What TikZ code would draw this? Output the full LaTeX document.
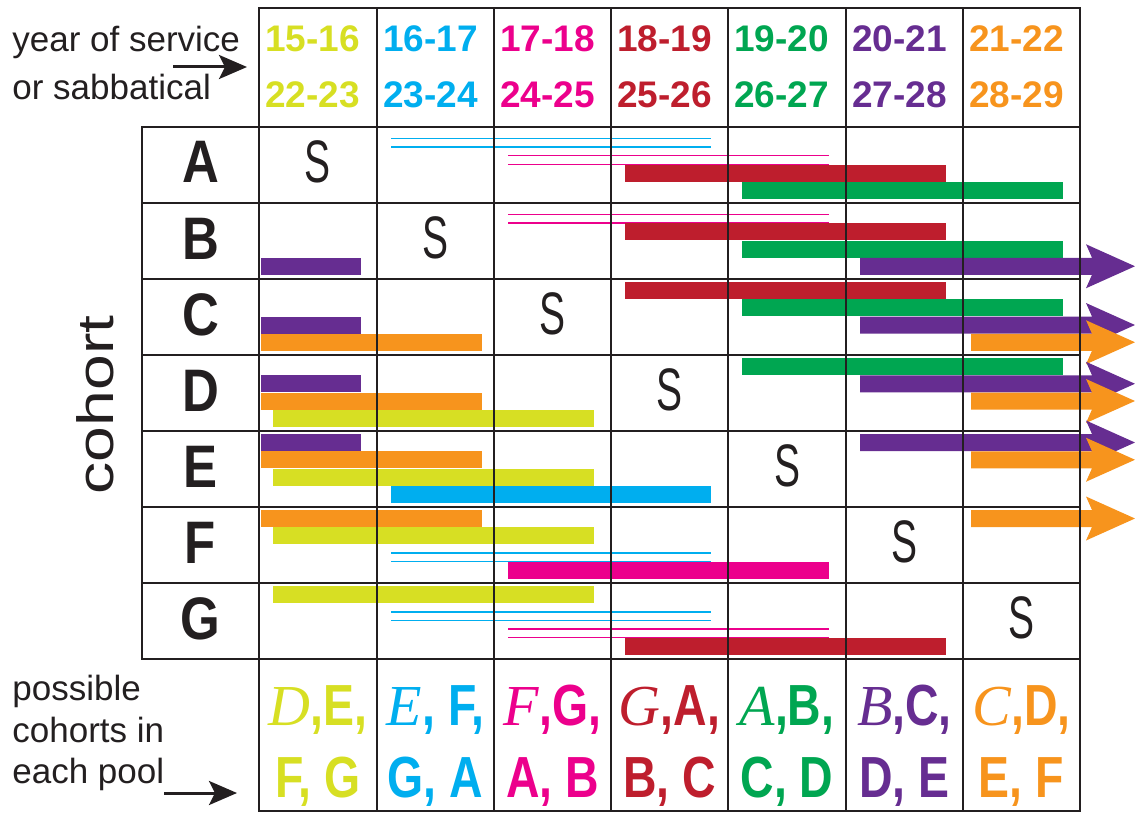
\documentclass[tikz,border=0pt]{standalone}
\usepackage{fontspec}
\setmainfont{Liberation Sans}
\newfontfamily\serifit{Liberation Serif}
\usepackage{graphicx}
\usepackage{tikz}
\usetikzlibrary{arrows.meta}
\definecolor{ylw}{HTML}{D7DF23}
\definecolor{cyn}{HTML}{00AEEF}
\definecolor{mag}{HTML}{EC008C}
\definecolor{crim}{HTML}{BE1E2D}
\definecolor{grn}{HTML}{00A651}
\definecolor{prp}{HTML}{662D91}
\definecolor{orng}{HTML}{F7941D}
\definecolor{ink}{HTML}{231F20}
% top edge of slot #2 in cohort row #1
\newcommand{\slottop}[2]{127+76*(#1-1)+3+17.25*(#2-1)}
\newcommand{\solidbar}[5]{\fill[#1] (#4,{\slottop{#2}{#3}}) rectangle (#5,{\slottop{#2}{#3}+17});}
\newcommand{\hollowbar}[5]{%
\draw[Hollow,#1] (#4,{\slottop{#2}{#3}+8.5}) -- (#5,{\slottop{#2}{#3}+8.5});
\draw[Hollow,#1] (#4,{\slottop{#2}{#3}+17}) -- (#5,{\slottop{#2}{#3}+17});}
\newcommand{\arrowbar}[4]{\fill[#1] (#4,{\slottop{#2}{#3}}) -- (1092,{\slottop{#2}{#3}})
 -- (1086,{\slottop{#2}{#3}-13.5}) -- (1135,{\slottop{#2}{#3}+8.5}) -- (1086,{\slottop{#2}{#3}+30.5})
 -- (1092,{\slottop{#2}{#3}+17}) -- (#4,{\slottop{#2}{#3}+17}) -- cycle;}
\newcommand{\squeeze}[1]{\scalebox{0.8}[1]{#1}}
\newcommand{\poolfirst}[2]{{\normalfont\serifit\itshape #1}\scalebox{0.8}[1]{#2}}

\begin{document}
\begin{tikzpicture}[
x=0.5pt, y=-0.5pt,
GridLines/.style={draw=ink, line width=1pt},
Hollow/.style={line width=0.75pt},
YearText/.style={font=\fontsize{18.5}{22}\selectfont\bfseries, anchor=base west, inner sep=0pt},
NoteText/.style={font=\fontsize{17.5}{21}\selectfont, anchor=base west, inner sep=0pt, text=ink},
CohortText/.style={font=\fontsize{30}{36}\selectfont\bfseries, anchor=base, inner sep=0pt, text=ink},
SabText/.style={font=\fontsize{30}{36}\selectfont, anchor=base, inner sep=0pt, text=ink},
PoolText/.style={font=\fontsize{29}{34}\selectfont\bfseries, anchor=base, inner sep=0pt},
Pointer/.style={-{Stealth[length=14pt, width=12pt, inset=3pt]}, line width=1.5pt, draw=ink}
]
\useasboundingbox (0,0) rectangle (1135,813);

% notes on the left
\node[NoteText] (note1) at (12,52) {year of service};
\node[NoteText] (note2) at (12,100) {or sabbatical};
\coordinate (yrtail) at (173,67);
\coordinate (yrhead) at (247,67);
\draw[Pointer] (yrtail) -- (yrhead);

\node[NoteText] (note3) at (12,700) {possible};
\node[NoteText] (note4) at (12,742) {cohorts in};
\node[NoteText] (note5) at (12,783) {each pool};
\coordinate (pooltail) at (164,793);
\coordinate (poolhead) at (237,793);
\draw[Pointer] (pooltail) -- (poolhead);

\node[rotate=90, anchor=base, inner sep=0pt, text=ink, font=\fontsize{25.5}{30}\selectfont] (cohort) at (113,405) {\scalebox{1.26}[1]{cohort}};

% bars, row by row
\hollowbar{cyn}{1}{1}{391}{711}
\hollowbar{mag}{1}{2}{508}{829}
\solidbar{crim}{1}{3}{625}{946}
\solidbar{grn}{1}{4}{742}{1063}

\hollowbar{mag}{2}{1}{508}{829}
\solidbar{crim}{2}{2}{625}{946}
\solidbar{grn}{2}{3}{742}{1063}
\solidbar{prp}{2}{4}{261}{361}
\arrowbar{prp}{2}{4}{860}

\solidbar{crim}{3}{1}{625}{946}
\solidbar{grn}{3}{2}{742}{1063}
\solidbar{prp}{3}{3}{261}{361}
\arrowbar{prp}{3}{3}{860}
\solidbar{orng}{3}{4}{261}{482}
\arrowbar{orng}{3}{4}{971}

\solidbar{grn}{4}{1}{742}{1063}
\solidbar{prp}{4}{2}{261}{361}
\arrowbar{prp}{4}{2}{860}
\solidbar{orng}{4}{3}{261}{482}
\arrowbar{orng}{4}{3}{971}
\solidbar{ylw}{4}{4}{273}{594}

\solidbar{prp}{5}{1}{261}{361}
\arrowbar{prp}{5}{1}{860}
\solidbar{orng}{5}{2}{261}{482}
\arrowbar{orng}{5}{2}{971}
\solidbar{ylw}{5}{3}{273}{594}
\solidbar{cyn}{5}{4}{391}{711}

\solidbar{orng}{6}{1}{261}{482}
\arrowbar{orng}{6}{1}{971}
\solidbar{ylw}{6}{2}{273}{594}
\hollowbar{cyn}{6}{3}{391}{711}
\solidbar{mag}{6}{4}{508}{829}

\solidbar{ylw}{7}{1}{273}{594}
\hollowbar{cyn}{7}{2}{391}{711}
\hollowbar{mag}{7}{3}{508}{829}
\solidbar{crim}{7}{4}{625}{946}

% table lines on top of the bars
\draw[GridLines] (259,8) rectangle (1080,127);
\draw[GridLines] (142,127) rectangle (1080,659);
\draw[GridLines] (259,659) rectangle (1080,811);
\draw[GridLines] (259,8) -- (259,811);
\draw[GridLines] (377,8) -- (377,811);
\draw[GridLines] (494,8) -- (494,811);
\draw[GridLines] (611,8) -- (611,811);
\draw[GridLines] (728,8) -- (728,811);
\draw[GridLines] (846,8) -- (846,811);
\draw[GridLines] (963,8) -- (963,811);
\draw[GridLines] (142,203) -- (1080,203);
\draw[GridLines] (142,279) -- (1080,279);
\draw[GridLines] (142,355) -- (1080,355);
\draw[GridLines] (142,431) -- (1080,431);
\draw[GridLines] (142,507) -- (1080,507);
\draw[GridLines] (142,583) -- (1080,583);

% years of service
\node[YearText, text=ylw] (yr1a) at (265,52) {15-16};
\node[YearText, text=ylw] (yr1b) at (265,108) {22-23};
\node[YearText, text=cyn] (yr2a) at (383,52) {16-17};
\node[YearText, text=cyn] (yr2b) at (383,108) {23-24};
\node[YearText, text=mag] (yr3a) at (500,52) {17-18};
\node[YearText, text=mag] (yr3b) at (500,108) {24-25};
\node[YearText, text=crim] (yr4a) at (617,52) {18-19};
\node[YearText, text=crim] (yr4b) at (617,108) {25-26};
\node[YearText, text=grn] (yr5a) at (734,52) {19-20};
\node[YearText, text=grn] (yr5b) at (734,108) {26-27};
\node[YearText, text=prp] (yr6a) at (852,52) {20-21};
\node[YearText, text=prp] (yr6b) at (852,108) {27-28};
\node[YearText, text=orng] (yr7a) at (969,52) {21-22};
\node[YearText, text=orng] (yr7b) at (969,108) {28-29};

% cohorts and their sabbatical year
\node[CohortText] (rowA) at (200.5,183) {\scalebox{0.85}[1]{A}};
\node[CohortText] (rowB) at (200.5,259) {\scalebox{0.85}[1]{B}};
\node[CohortText] (rowC) at (200.5,335) {\scalebox{0.85}[1]{C}};
\node[CohortText] (rowD) at (200.5,411) {\scalebox{0.85}[1]{D}};
\node[CohortText] (rowE) at (200.5,487) {\scalebox{0.85}[1]{E}};
\node[CohortText] (rowF) at (200.5,563) {\scalebox{0.85}[1]{F}};
\node[CohortText] (rowG) at (200.5,639) {\scalebox{0.85}[1]{G}};

\node[SabText] (sabA) at (318,182.5) {\scalebox{0.65}[1]{S}};
\node[SabText] (sabB) at (435.5,258.5) {\scalebox{0.65}[1]{S}};
\node[SabText] (sabC) at (552.5,334.5) {\scalebox{0.65}[1]{S}};
\node[SabText] (sabD) at (669.5,410.5) {\scalebox{0.65}[1]{S}};
\node[SabText] (sabE) at (787,486.5) {\scalebox{0.65}[1]{S}};
\node[SabText] (sabF) at (904.5,562.5) {\scalebox{0.65}[1]{S}};
\node[SabText] (sabG) at (1021.5,638.5) {\scalebox{0.65}[1]{S}};

% pools
\node[PoolText, text=ylw] (pool1a) at (318,725) {\poolfirst{D}{,E,}};
\node[PoolText, text=ylw] (pool1b) at (318,797) {\squeeze{F, G}};
\node[PoolText, text=cyn] (pool2a) at (435.5,725) {\poolfirst{E}{, F,}};
\node[PoolText, text=cyn] (pool2b) at (435.5,797) {\squeeze{G, A}};
\node[PoolText, text=mag] (pool3a) at (552.5,725) {\poolfirst{F}{,G,}};
\node[PoolText, text=mag] (pool3b) at (552.5,797) {\squeeze{A, B}};
\node[PoolText, text=crim] (pool4a) at (669.5,725) {\poolfirst{G}{,A,}};
\node[PoolText, text=crim] (pool4b) at (669.5,797) {\squeeze{B, C}};
\node[PoolText, text=grn] (pool5a) at (787,725) {\poolfirst{A}{,B,}};
\node[PoolText, text=grn] (pool5b) at (787,797) {\squeeze{C, D}};
\node[PoolText, text=prp] (pool6a) at (904.5,725) {\poolfirst{B}{,C,}};
\node[PoolText, text=prp] (pool6b) at (904.5,797) {\squeeze{D, E}};
\node[PoolText, text=orng] (pool7a) at (1021.5,725) {\poolfirst{C}{,D,}};
\node[PoolText, text=orng] (pool7b) at (1021.5,797) {\squeeze{E, F}};

\end{tikzpicture}
\end{document}
